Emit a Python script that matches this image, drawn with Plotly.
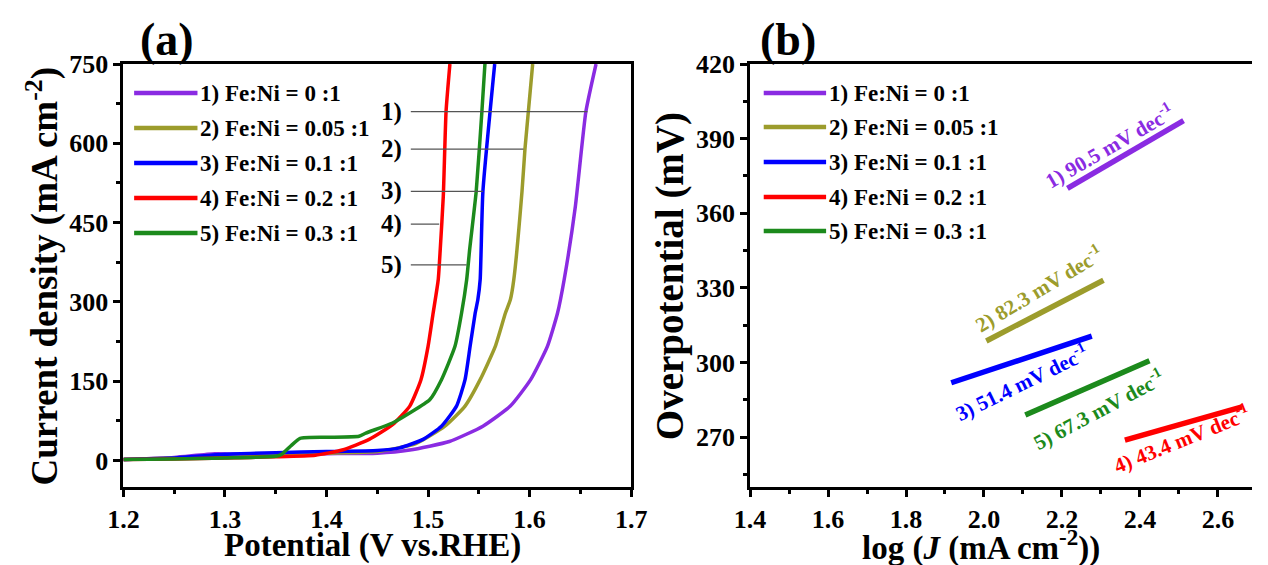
import plotly.graph_objects as go

# page body has an 8px margin: figure is drawn 8px in from the top-left of the window
OFF = 8
W, H = 1260, 557
PLOT_TOP, PLOT_BOT = 64, 487   # window pixels of the plot area

# ---------------- Panel (a): LSV curves ----------------
names = ["1) Fe:Ni = 0 :1", "2) Fe:Ni = 0.05 :1", "3) Fe:Ni = 0.1 :1",
         "4) Fe:Ni = 0.2 :1", "5) Fe:Ni = 0.3 :1"]
colors = ["#8A2BE2", "#9C9C2C", "#0000FF", "#FF0000", "#1C8A1C"]

v1 = [1.20, 1.25, 1.29, 1.32, 1.35, 1.40, 1.45, 1.482, 1.521, 1.554, 1.581, 1.601, 1.6175, 1.6275, 1.634, 1.645, 1.6554, 1.6654]
j1 = [2, 6, 13, 12, 12, 13, 14, 20, 36, 65, 103, 153, 216, 279, 342, 480, 660, 750]

v2 = [1.20, 1.25, 1.30, 1.35, 1.40, 1.45, 1.488, 1.5165, 1.5364, 1.5513, 1.5662, 1.5762, 1.581, 1.5844, 1.5925, 1.5954, 1.603]
j2 = [2, 5, 10, 12, 14, 17, 32, 65, 103, 153, 216, 279, 304, 342, 509, 589, 750]

v3 = [1.20, 1.25, 1.30, 1.35, 1.40, 1.45, 1.472, 1.495, 1.5132, 1.528, 1.5364, 1.5414, 1.5464, 1.549, 1.5513, 1.554, 1.5656]
j3 = [2, 5, 12, 15, 17, 19, 24, 40, 65, 103, 153, 216, 279, 304, 342, 509, 750]

v4 = [1.20, 1.25, 1.30, 1.35, 1.389, 1.4155, 1.442, 1.465, 1.482, 1.493, 1.500, 1.505, 1.510, 1.512, 1.515, 1.5177, 1.5215]
j4 = [2, 3, 5, 7, 10, 20, 40, 68, 103, 153, 216, 279, 342, 400, 500, 660, 750]

v5 = [1.20, 1.25, 1.30, 1.35, 1.356, 1.365, 1.374, 1.40, 1.432, 1.4387, 1.465, 1.4818, 1.5016, 1.5132, 1.5265, 1.533, 1.538, 1.541, 1.5474, 1.553, 1.556]
j5 = [2, 3, 5, 8, 12, 28, 42, 44, 46, 52, 71, 90, 115, 153, 216, 279, 342, 400, 509, 660, 750]

lsv_v = [v1, v2, v3, v4, v5]
lsv_j = [j1, j2, j3, j4, j5]

# leader marks "1)".."5)"
lead_labels = ["1)", "2)", "3)", "4)", "5)"]
lead_j = [660, 589, 509, 447, 370]
lead_v_start = 1.483
lead_v_end = [1.657, 1.594, 1.554, 1.511, 1.538]
lead_label_v = 1.476

# ---------------- Panel (b): Tafel lines ----------------
tafel_x = [[2.214, 2.512], [2.006, 2.3065], [1.916, 2.2765], [2.3615, 2.662], [2.106, 2.4245]]
tafel_y = [[370.0, 397.2], [308.7, 333.1], [291.9, 310.6], [268.8, 282.2], [278.9, 300.7]]
tafel_labels = ["1) 90.5 mV dec<sup>-1</sup>", "2) 82.3 mV dec<sup>-1</sup>", "3) 51.4 mV dec<sup>-1</sup>",
                "4) 43.4 mV dec<sup>-1</sup>", "5) 67.3 mV dec<sup>-1</sup>"]

FONT = "Liberation Serif"
MT = PLOT_TOP - OFF
MB = H - (PLOT_BOT - OFF)


def PX(x):
    return (x - OFF) / W


def PY(y):
    return ((PLOT_BOT - OFF) - (y - OFF)) / (PLOT_BOT - PLOT_TOP)


def txt(x, y, text, size, color="black", angle=0, xa="center", ya="middle"):
    return dict(xref="paper", yref="paper", x=PX(x), y=PY(y), text=text, showarrow=False,
                xanchor=xa, yanchor=ya, textangle=angle,
                font=dict(family=FONT, size=size, color=color, weight="bold"))


fig = go.Figure()
for i in range(5):
    fig.add_trace(go.Scatter(x=lsv_v[i], y=lsv_j[i], mode="lines", name=names[i],
                             line=dict(color=colors[i], width=3.5, shape="spline", smoothing=0.5),
                             showlegend=False, xaxis="x", yaxis="y"))
for i in range(5):
    fig.add_trace(go.Scatter(x=tafel_x[i], y=tafel_y[i], mode="lines", name=names[i],
                             line=dict(color=colors[i], width=5.5), showlegend=False,
                             xaxis="x2", yaxis="y2"))

shapes = []
annotations = []

# leader lines (panel a)
for k in range(5):
    shapes.append(dict(type="line", xref="x", yref="y", x0=lead_v_start, x1=lead_v_end[k],
                       y0=lead_j[k], y1=lead_j[k], line=dict(color="#555555", width=1.3)))
    annotations.append(dict(xref="x", yref="y", x=lead_label_v, y=lead_j[k], text=lead_labels[k],
                            showarrow=False, xanchor="right", yanchor="middle",
                            font=dict(family=FONT, size=25, color="black", weight="bold")))

# manual legends
leg_a_y = [93, 128, 163, 198, 233]
leg_b_y = [93, 127, 162, 197, 231]
for k in range(5):
    shapes.append(dict(type="line", xref="paper", yref="paper", x0=PX(121), x1=PX(186),
                       y0=PY(leg_a_y[k]), y1=PY(leg_a_y[k]), line=dict(color=colors[k], width=4.5)))
    annotations.append(txt(187, leg_a_y[k], names[k], 23, xa="left"))
    shapes.append(dict(type="line", xref="paper", yref="paper", x0=PX(767), x1=PX(831),
                       y0=PY(leg_b_y[k]), y1=PY(leg_b_y[k]), line=dict(color=colors[k], width=4.5)))
    annotations.append(txt(832, leg_b_y[k], names[k], 23, xa="left"))

# Tafel slope labels (window px centre, angle)
lab_pos = [(1122, 146, -30), (1049, 288, -31), (1031, 382, -26), (1196, 438, -22), (1110, 409, -28)]
for k in range(5):
    x, y, a = lab_pos[k]
    annotations.append(txt(x, y, tafel_labels[k], 21, color=colors[k], angle=a))

# panel titles and axis titles
annotations += [
    txt(155, 40, "(a)", 46),
    txt(792, 40, "(b)", 46),
    txt(366, 545, "Potential (V vs.RHE)", 33),
    txt(27, 276, "Current density (mA cm<sup>-2</sup>)", 37, angle=-90),
    txt(990, 545, "log (<i>J</i> (mA cm<sup>-2</sup>))", 33),
    txt(671, 276, "Overpotential (mV)", 39, angle=-90),
]

tick_font = dict(family=FONT, size=26, color="black", weight="bold")
axis_common = dict(showline=True, linecolor="black", linewidth=3, ticks="outside", ticklen=7,
                   tickwidth=2.5, tickcolor="black", showgrid=False, zeroline=False,
                   tickfont=tick_font)
minor_common = dict(ticklen=4, tickwidth=2.5, ticks="outside", tickcolor="black")

fig.update_layout(
    width=W, height=H,
    margin=dict(l=0, r=0, t=MT, b=MB),
    paper_bgcolor="white", plot_bgcolor="white",
    xaxis=dict(domain=[PX(110), PX(631)], range=[1.2, 1.7], dtick=0.1, tick0=1.2, mirror=True,
               minor=dict(dtick=0.05, **minor_common), anchor="y", **axis_common),
    yaxis=dict(domain=[0, 1], range=[-50, 750], dtick=150, tick0=0, mirror=True,
               minor=dict(dtick=75, **minor_common), anchor="x", **axis_common),
    xaxis2=dict(domain=[PX(753), 1.0], range=[1.4, 1.4 + (OFF + W - 753) / 400.0], dtick=0.2, tick0=1.4,
                mirror=True, tickformat=".1f",
                minor=dict(dtick=0.1, **minor_common), anchor="y2", **axis_common),
    yaxis2=dict(domain=[0, 1], range=[250, 420], dtick=30, tick0=270, mirror=False,
                minor=dict(dtick=15, **minor_common), anchor="x2", **axis_common),
    shapes=shapes,
    annotations=annotations,
)

fig.write_html("out.html")
